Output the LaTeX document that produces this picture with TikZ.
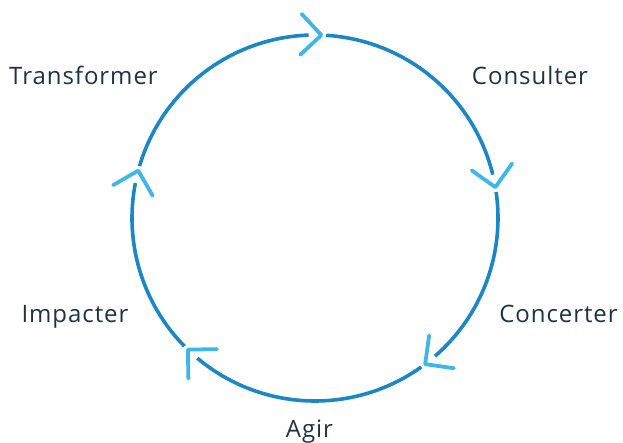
\documentclass[tikz,border=0pt]{standalone}
\usepackage{fontspec}
\setmainfont{Open Sans}[LetterSpace=4]
\usetikzlibrary{calc}
\definecolor{ringblue}{HTML}{1B87C4}
\definecolor{chevblue}{HTML}{3DB7EA}
\definecolor{labelink}{HTML}{1E3246}
\begin{document}
\begin{tikzpicture}[x=1pt,y=1pt,
  ring/.style={draw=ringblue,line width=3.6pt},
  chev/.style={draw=chevblue,line width=3.8pt,line cap=round,line join=round},
  lbl/.style={text=labelink,font=\fontsize{24}{28}\selectfont,anchor=base,inner sep=0pt}]
\useasboundingbox (0,0) rectangle (623,442);
\coordinate (c) at (315,224);
\def\R{183}
% ring arcs (clockwise travel)
\foreach \a/\b in {86.5/13.7, 8.2/-49, -54.5/-130, -135.5/-191, -196.5/-268}{
  \draw[ring] ($(c)+(\a:\R)$) arc[start angle=\a,end angle=\b,radius=\R];
}
% chevrons
\foreach \t [count=\i] in {88,9.7,-53,-134,165}{
  \coordinate (tip\i) at ($(c)+(\t:\R)$);
  \draw[chev] (tip\i) ++(\t+135:29) -- (tip\i) -- ++(\t+45:29);
}
\node[lbl] (transformer) at (83.5,357) {Transformer};
\node[lbl] (consulter) at (530,357) {Consulter};
\node[lbl] (concerter) at (558.5,120) {Concerter};
\node[lbl] (impacter) at (75,120) {Impacter};
\node[lbl] (agir) at (309.5,5) {Agir};
\end{tikzpicture}
\end{document}
